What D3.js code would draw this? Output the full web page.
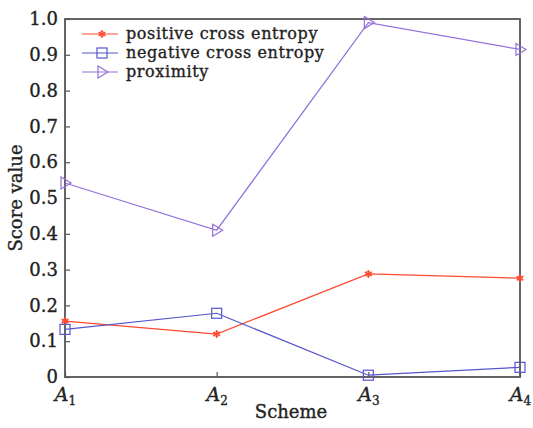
<!DOCTYPE html>
<html><head><meta charset="utf-8">
<script src="https://cdn.jsdelivr.net/npm/d3@7"></script>
<style>body{margin:0;background:#fff} text{stroke:#222;stroke-width:0.35px}</style>
</head><body>
<svg id="c" width="533" height="428"></svg>
<script>
const schemes = ["1","2","3","4"];
const positive = [0.156, 0.120, 0.288, 0.276];
const negative = [0.133, 0.178, 0.005, 0.027];
const proximity = [0.542, 0.410, 0.990, 0.915];
const yTicks = [0,0.1,0.2,0.3,0.4,0.5,0.6,0.7,0.8,0.9,1.0];
const seriesNames = ["positive cross entropy","negative cross entropy","proximity"];

const svg = d3.select("#c");
const L=65, R=520, T=19, B=377;
const font = "'DejaVu Serif', serif";
const x = d3.scalePoint().domain(schemes).range([L,R]);
const y = d3.scaleLinear().domain([0,1]).range([B,T]);
const axisColor = "#555";

svg.append("rect").attr("x",L).attr("y",T).attr("width",R-L).attr("height",B-T)
  .attr("fill","none").attr("stroke",axisColor).attr("stroke-width",1.8);

const ya = svg.append("g").attr("transform",`translate(${L},0)`)
  .call(d3.axisLeft(y).tickValues(yTicks).tickSize(-5).tickPadding(7)
    .tickFormat(d=> d===0 ? "0" : d3.format(".1f")(d)));
ya.select(".domain").remove();
ya.selectAll("line").attr("stroke",axisColor).attr("stroke-width",1.2);
ya.selectAll("text").attr("font-family",font).attr("font-size",18).attr("fill","#222");

const xa = svg.append("g").attr("transform",`translate(0,${B})`)
  .call(d3.axisBottom(x).tickSize(-5).tickFormat(""));
xa.select(".domain").remove();
xa.selectAll("line").attr("stroke",axisColor).attr("stroke-width",1.2);
xa.selectAll(".tick").each(function(d){
  const t = d3.select(this).append("text").attr("y",24).attr("text-anchor","middle")
    .attr("font-family",font).attr("fill","#222");
  t.append("tspan").attr("font-style","italic").attr("font-size",19).text("A");
  t.append("tspan").attr("font-size",12).attr("dy",4).text(d);
});

svg.append("text").attr("x",291).attr("y",418).attr("text-anchor","middle")
  .attr("font-family",font).attr("font-size",18).attr("fill","#222").text("Scheme");
svg.append("text").attr("transform",`translate(22,${(T+B)/2}) rotate(-90)`).attr("text-anchor","middle")
  .attr("font-family",font).attr("font-size",18).attr("fill","#222").text("Score value");

const colors = ["#ff4a30","#5555cc","#9370db"];
const data = [positive, negative, proximity];

function marker(g, type, cx, cy, col){
  if(type===0){
    const s=4;
    for(let a=0;a<3;a++){
      const ang=a*Math.PI/3+Math.PI/2;
      g.append("line").attr("x1",cx-s*Math.cos(ang)).attr("y1",cy-s*Math.sin(ang))
        .attr("x2",cx+s*Math.cos(ang)).attr("y2",cy+s*Math.sin(ang))
        .attr("stroke",col).attr("stroke-width",1.3);
    }
    g.append("circle").attr("cx",cx).attr("cy",cy).attr("r",2.5).attr("fill","none").attr("stroke",col).attr("stroke-width",1);
  } else if(type===1){
    g.append("rect").attr("x",cx-5).attr("y",cy-5).attr("width",10).attr("height",10)
      .attr("fill","none").attr("stroke",col).attr("stroke-width",1.2);
  } else {
    g.append("path").attr("d",`M${cx-4},${cy-6}L${cx+6},${cy}L${cx-4},${cy+6}Z`)
      .attr("fill","none").attr("stroke",col).attr("stroke-width",1.2);
  }
}

const line = d3.line().x((d,i)=>x(schemes[i])).y(d=>y(d));
data.forEach((vals,k)=>{
  svg.append("path").datum(vals).attr("d",line).attr("fill","none")
    .attr("stroke",colors[k]).attr("stroke-width",1.2);
  const g = svg.append("g");
  vals.forEach((v,i)=>marker(g,k,x(schemes[i]),y(v),colors[k]));
});

const lg = svg.append("g");
seriesNames.forEach((n,k)=>{
  const yy = 34 + k*19;
  lg.append("line").attr("x1",82).attr("x2",118).attr("y1",yy).attr("y2",yy)
    .attr("stroke",colors[k]).attr("stroke-width",1.2);
  marker(lg,k,102,yy,colors[k]);
  lg.append("text").attr("x",126).attr("y",yy+5).attr("font-family",font)
    .attr("font-size",16).attr("letter-spacing",0.6).attr("fill","#222").text(n);
});
</script>
</body></html>
